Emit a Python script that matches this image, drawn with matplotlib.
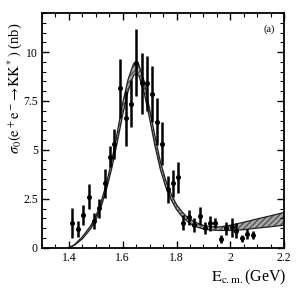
import matplotlib
matplotlib.use("Agg")
import matplotlib.pyplot as plt
from matplotlib.ticker import MultipleLocator, FuncFormatter

plt.rcParams['font.family'] = ['Liberation Serif', 'DejaVu Serif']
plt.rcParams['mathtext.fontset'] = 'stix'

# data points
energy = [1.413, 1.432, 1.452, 1.473, 1.493, 1.513, 1.533, 1.551, 1.569, 1.590,
          1.611, 1.631, 1.650, 1.670, 1.690, 1.708, 1.728, 1.746, 1.767, 1.788,
          1.807, 1.826, 1.846, 1.865, 1.886, 1.905, 1.926, 1.944, 1.965, 1.984,
          2.005, 2.023, 2.044, 2.063, 2.084]
sigma = [1.28, 0.94, 1.66, 2.61, 1.38, 2.01, 3.29, 4.65, 5.30, 8.15,
         6.62, 7.35, 9.45, 8.40, 8.40, 7.86, 6.45, 5.32, 2.99, 3.29,
         3.60, 1.28, 1.55, 1.16, 1.62, 0.99, 1.25, 1.28, 0.43, 0.99,
         1.04, 0.87, 0.48, 0.70, 0.65]
sigma_err = [0.77, 0.40, 0.50, 0.63, 0.40, 0.50, 0.75, 0.55, 0.77, 1.50,
             1.40, 1.20, 1.72, 1.55, 1.40, 1.45, 1.20, 1.10, 0.70, 0.70,
             0.80, 0.40, 0.40, 0.35, 0.45, 0.30, 0.38, 0.26, 0.20, 0.34,
             0.48, 0.37, 0.17, 0.24, 0.20]

# fit band
band_x = [1.40, 1.42, 1.45, 1.48, 1.50, 1.52, 1.54, 1.56, 1.58, 1.60,
          1.62, 1.64, 1.65, 1.66, 1.68, 1.70, 1.72, 1.74, 1.76, 1.78,
          1.80, 1.82, 1.84, 1.86, 1.88, 1.90, 1.93, 1.96, 2.00, 2.05,
          2.10, 2.15, 2.20]
band_lo = [0.00, 0.12, 0.45, 0.95, 1.40, 2.10, 3.00, 4.10, 5.40, 6.80,
           8.00, 8.80, 8.90, 8.80, 7.90, 6.60, 5.20, 4.00, 3.10, 2.45,
           1.95, 1.60, 1.35, 1.15, 1.04, 0.96, 0.90, 0.88, 0.88, 0.92,
           1.00, 1.07, 1.15]
band_hi = [0.00, 0.15, 0.55, 1.10, 1.60, 2.35, 3.30, 4.50, 5.90, 7.40,
           8.60, 9.40, 9.50, 9.35, 8.50, 7.10, 5.70, 4.40, 3.45, 2.75,
           2.20, 1.85, 1.55, 1.38, 1.24, 1.14, 1.07, 1.06, 1.15, 1.30,
           1.47, 1.63, 1.80]

fig = plt.figure(figsize=(3.0, 2.88), dpi=100)
ax = fig.add_axes([0.14, 0.14, 0.807, 0.815])

ax.fill_between(band_x, band_lo, band_hi, facecolor='#a8a8a8', edgecolor='#555555',
                hatch='//////', linewidth=0, zorder=1)
ax.plot(band_x, band_lo, color='#202020', lw=0.9, zorder=2)
ax.plot(band_x, band_hi, color='#202020', lw=0.9, zorder=2)

ax.errorbar(energy, sigma, yerr=sigma_err, fmt='o', color='black', ms=2.6,
            elinewidth=1.8, capsize=0, zorder=3)

ax.set_xlim(1.3, 2.2)
ax.set_ylim(0, 12)
ax.xaxis.set_major_locator(MultipleLocator(0.2))
ax.xaxis.set_minor_locator(MultipleLocator(0.05))
ax.yaxis.set_major_locator(MultipleLocator(2.5))
ax.yaxis.set_minor_locator(MultipleLocator(0.5))
ax.xaxis.set_major_formatter(FuncFormatter(lambda v, p: '%g' % round(v, 2)))
ax.yaxis.set_major_formatter(FuncFormatter(lambda v, p: '%g' % round(v, 2)))
ax.tick_params(which='both', direction='in', top=True, right=True, labelsize=8.5, pad=3)
ax.tick_params(which='major', length=5, width=1.0)
ax.tick_params(which='minor', length=3, width=0.8)
for s in ax.spines.values():
    s.set_linewidth(1.3)

ax.set_ylabel(r'$\sigma_0(\mathrm{e}^+\mathrm{e}^-\!\rightarrow\!\mathrm{KK}^*)$ (nb)', fontsize=10.5)
ax.yaxis.set_label_coords(-0.075, 0.68)
ax.set_xlabel(r'$\mathrm{E}_{\mathrm{c.m.}}$(GeV)', fontsize=11.5)
ax.xaxis.set_label_coords(1.01, -0.085)
ax.xaxis.label.set_horizontalalignment('right')
ax.text(0.96, 0.93, '(a)', transform=ax.transAxes, ha='right', va='center', fontsize=7.5)

fig.savefig('out.png', dpi=100)
